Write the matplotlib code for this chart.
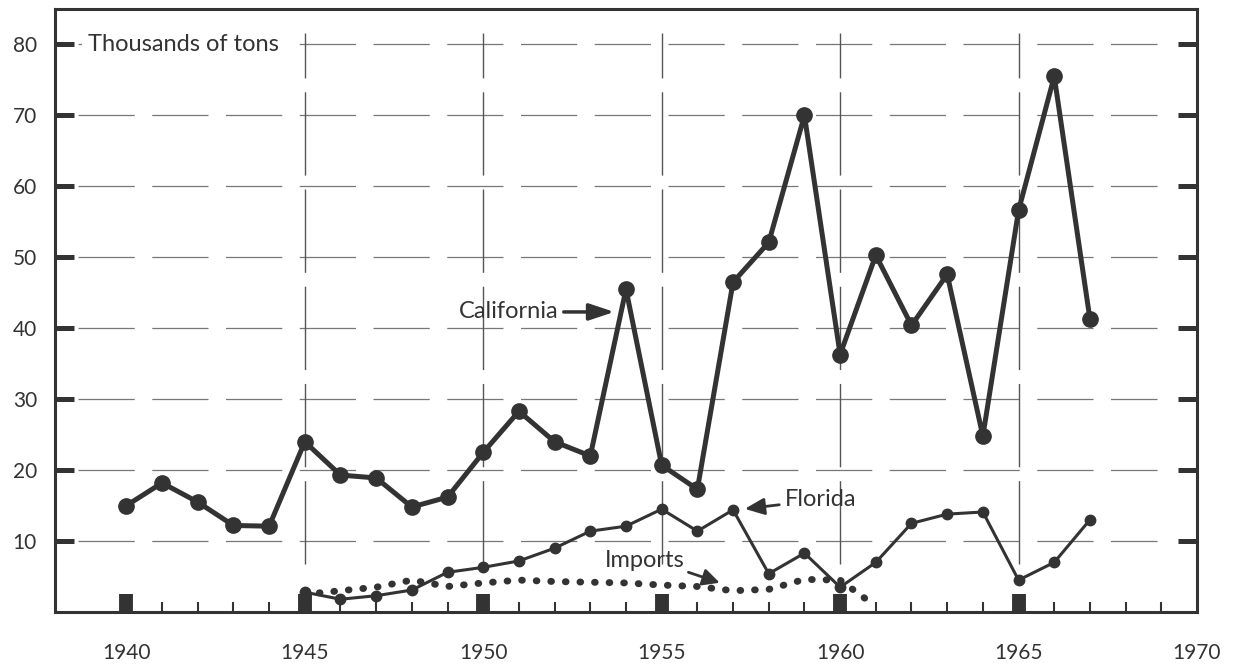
import matplotlib
matplotlib.use("Agg")
import matplotlib.pyplot as plt

# datos (miles de toneladas)
anios_cal = list(range(1940, 1968))
california = [15, 18.2, 15.5, 12.2, 12.1, 24, 19.3, 18.9, 14.8, 16.2,
              22.5, 28.3, 24, 22, 45.5, 20.7, 17.3, 46.5, 52.1, 70,
              36.3, 50.3, 40.4, 47.6, 24.8, 56.6, 75.5, 41.3]

anios_fla = list(range(1945, 1968))
florida = [2.8, 1.8, 2.3, 3.1, 5.6, 6.3, 7.2, 9.0, 11.4, 12.1,
           14.5, 11.4, 14.4, 5.4, 8.3, 3.5, 7.0, 12.5, 13.8, 14.1,
           4.5, 7.0, 13.0]

anios_imp = list(range(1945, 1962))
imports = [2.5, 3.0, 3.5, 4.5, 3.6, 4.1, 4.5, 4.3, 4.2, 4.1,
           3.8, 3.6, 3.0, 3.2, 4.6, 4.5, 0.8]

ticks_x = [1940, 1945, 1950, 1955, 1960, 1965, 1970]
ticks_y = [10, 20, 30, 40, 50, 60, 70, 80]

tinta = "#333333"
plt.rcParams['font.family'] = ['Lato', 'DejaVu Sans']

fig = plt.figure(figsize=(12.33, 6.68), dpi=100)
ax = fig.add_axes([0.0446, 0.0838, 0.9262, 0.9027])

# rejilla discontinua
for y in ticks_y:
    ax.axhline(y, xmin=0.02, xmax=0.965, color="#777777", lw=0.9,
               dashes=(45, 14), zorder=1)
for x in ticks_x[1:-1]:
    ax.axvline(x, ymin=0.08, ymax=0.96, color="#555555", lw=1.0,
               dashes=(60, 10), zorder=1)

ax.plot(anios_cal, california, color=tinta, lw=3.6, marker="o", ms=11, zorder=4)
ax.plot(anios_fla, florida, color=tinta, lw=2.2, marker="o", ms=7.5, zorder=3)
ax.plot(anios_imp, imports, color=tinta, lw=5, linestyle=(0, (0.1, 2.0)),
        dash_capstyle="round", zorder=3)

ax.set_xlim(1938, 1970)
ax.set_ylim(0, 85)
ax.set_xticks(ticks_x)
ax.set_xticks(range(1941, 1970), minor=True)
ax.set_yticks(ticks_y)

ax.tick_params(axis="x", which="major", direction="in", length=13, width=10,
               color=tinta, labelsize=15, labelcolor=tinta, pad=22)
ax.tick_params(axis="x", which="minor", direction="in", length=7, width=1.5, color=tinta)
ax.tick_params(axis="y", which="major", direction="in", length=14, width=3.6,
               color=tinta, labelsize=15, labelcolor=tinta, pad=13, right=True)
ax.xaxis.get_major_ticks()[-1].tick1line.set_visible(False)

for s in ax.spines.values():
    s.set_linewidth(2.2)
    s.set_color(tinta)

ax.text(1938.92, 80, "Thousands of tons", fontsize=17, color=tinta, va="center",
        zorder=5, bbox=dict(facecolor="white", edgecolor="none", pad=4))

ax.annotate("California", xy=(1953.75, 42.3), xytext=(1952.1, 42.3),
            fontsize=17, color=tinta, ha="right", va="center",
            arrowprops=dict(arrowstyle="-|>,head_length=0.9,head_width=0.3",
                            color=tinta, lw=2.5))
ax.annotate("Florida", xy=(1957.25, 14.5), xytext=(1958.45, 15.8),
            fontsize=17, color=tinta, ha="left", va="center",
            arrowprops=dict(arrowstyle="-|>,head_length=0.7,head_width=0.3",
                            color=tinta, lw=2, shrinkA=2))
ax.annotate("Imports", xy=(1956.7, 4.0), xytext=(1953.4, 7.2),
            fontsize=17, color=tinta, ha="left", va="center",
            arrowprops=dict(arrowstyle="-|>,head_length=0.6,head_width=0.3",
                            color=tinta, lw=2, shrinkA=1,
                            relpos=(1.02, 0.0)))

fig.savefig("out.png", dpi=100)
